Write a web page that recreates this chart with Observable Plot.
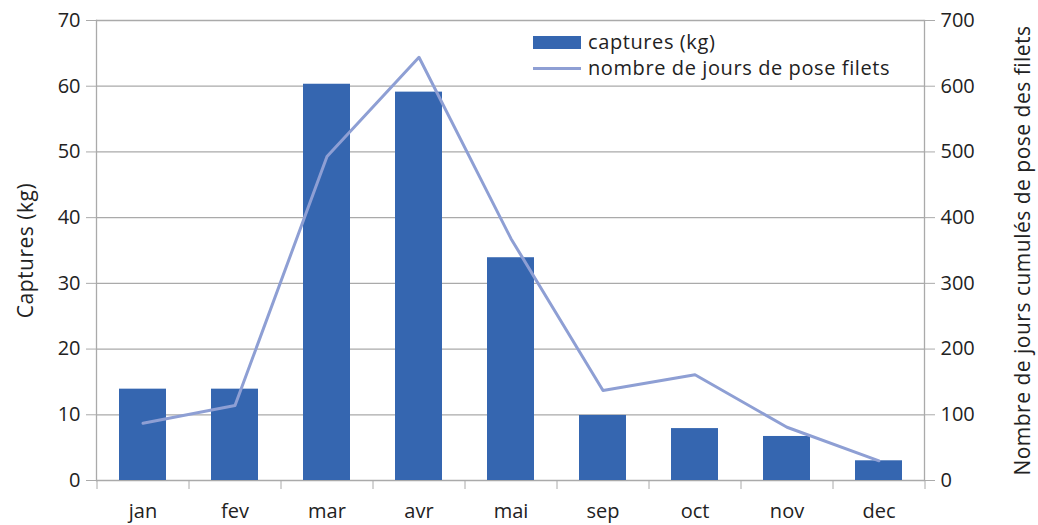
<!DOCTYPE html>
<html><head><meta charset="utf-8">
<script src="https://cdn.jsdelivr.net/npm/d3@7"></script>
<script src="https://cdn.jsdelivr.net/npm/@observablehq/plot@0.6"></script>
<style>
body{margin:0;background:#fff}
#wrap{position:relative;width:1038px;height:525px;font-family:"Open Sans",sans-serif;color:#222}
#legend{position:absolute;left:533px;top:29px;font-size:20px;letter-spacing:0.6px;line-height:26px}
.row{display:flex;align-items:center;height:26px}
.sw{width:48px;margin-right:7px}
</style>
</head><body>
<div id="wrap"></div>
<script>
const months = ["jan","fev","mar","avr","mai","sep","oct","nov","dec"];
const captures = [13.9, 13.9, 60.3, 59.1, 33.9, 9.9, 7.9, 6.7, 3.0];
const jours = [87, 114, 493, 644, 368, 137, 161, 81, 30];
const leftTicks = [0, 10, 20, 30, 40, 50, 60, 70];
const rightTicks = [0, 100, 200, 300, 400, 500, 600, 700];
const ratio = 10; // right axis value per left axis unit

const barColor = "#3566b0";
const lineColor = "#8e9fd4";
const gridColor = "#aaaaaa";

const data = months.map((m, i) => ({month: m, captures: captures[i], jours: jours[i]}));

const chart = Plot.plot({
  width: 1038,
  height: 525,
  marginLeft: 96,
  marginRight: 114,
  marginTop: 20,
  marginBottom: 45,
  style: {fontSize: "20px", fontFamily: "'Open Sans', sans-serif", color: "#222", background: "#fff"},
  x: {domain: months, paddingInner: 0.49, paddingOuter: 0.245},
  y: {domain: [0, 70]},
  marks: [
    Plot.gridY(leftTicks, {stroke: gridColor, strokeOpacity: 1, strokeWidth: 1.3}),
    Plot.frame({anchor: "left", stroke: gridColor, strokeWidth: 1.3}),
    Plot.frame({anchor: "right", stroke: gridColor, strokeWidth: 1.3}),
    Plot.barY(data, {x: "month", y: "captures", fill: barColor}),
    Plot.lineY(data, {x: "month", y: d => d.jours / ratio, stroke: lineColor, strokeWidth: 3}),
    Plot.axisY(leftTicks, {anchor: "left", tickSize: 10, tickPadding: 6, stroke: gridColor, fill: "#222",
      label: "Captures (kg)", labelAnchor: "center", labelOffset: 78, labelArrow: "none"}),
    Plot.axisY(rightTicks.map(d => d / ratio), {anchor: "right", tickSize: 10, tickPadding: 6, stroke: gridColor, fill: "#222",
      tickFormat: d => d * ratio, label: "Nombre de jours cumulés de pose des filets", labelAnchor: "center", labelOffset: 105, labelArrow: "none"}),
    Plot.axisX({anchor: "bottom", tickSize: 9, fill: "none", stroke: gridColor, dx: -46, label: null}),
    Plot.axisX([months[months.length - 1]], {anchor: "bottom", tickSize: 9, fill: "none", stroke: gridColor, dx: 46, label: null}),
    Plot.axisX({anchor: "bottom", tickSize: 0, tickPadding: 23, fill: "#222", label: null})
  ]
});

const wrap = document.getElementById("wrap");
wrap.appendChild(chart);
// letter-spacing on axis titles
d3.select(chart).selectAll("text").filter(function() {
  const t = this.textContent;
  return t === "Captures (kg)" || t === "Nombre de jours cumulés de pose des filets";
}).style("letter-spacing", "0.5px").style("font-size", "21px");
const legend = document.createElement("div");
legend.id = "legend";
legend.innerHTML = `
<div class="row"><div class="sw" style="height:13px;background:${barColor}"></div>captures (kg)</div>
<div class="row"><div class="sw" style="height:3px;background:${lineColor}"></div>nombre de jours de pose filets</div>`;
wrap.appendChild(legend);
</script>
</body></html>
